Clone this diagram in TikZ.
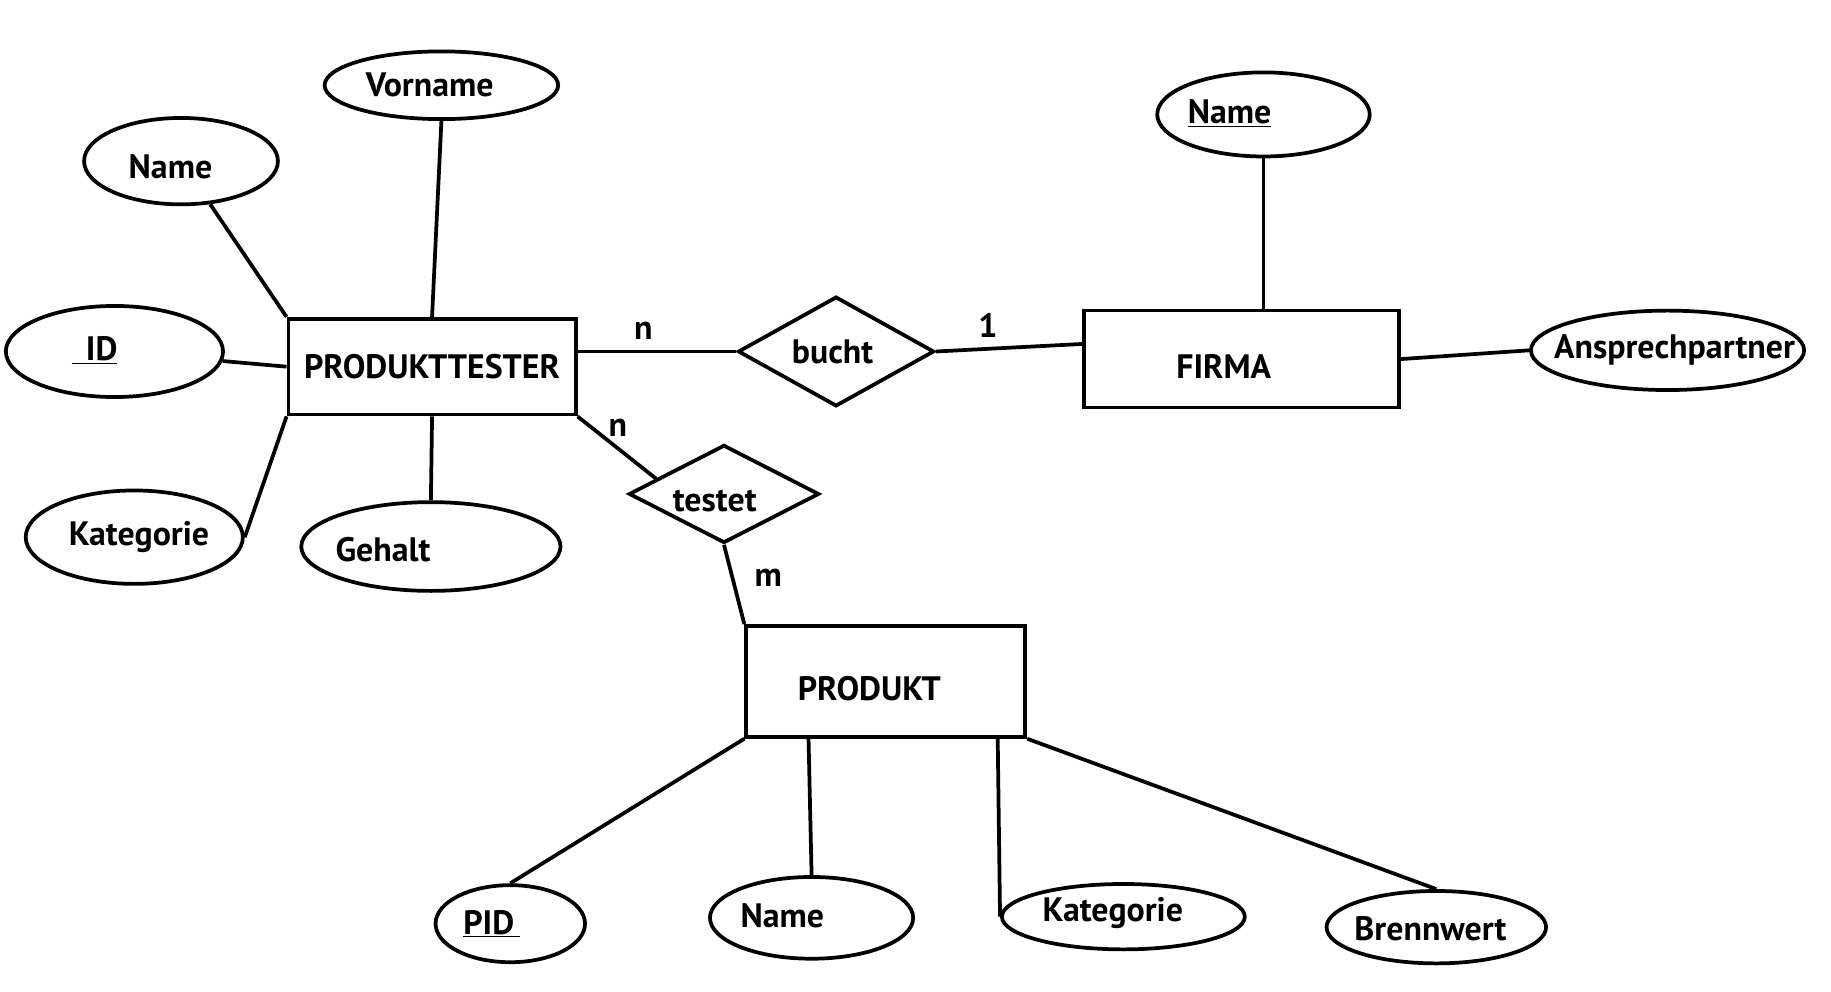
\documentclass[tikz,border=0pt]{standalone}
\usepackage{fontspec}
\setmainfont{PT Sans}
\usetikzlibrary{shapes.geometric,calc}
\begin{document}
\begin{tikzpicture}[x=1pt,y=-1pt,
  every node/.style={font=\bfseries\fontsize{29}{34}\selectfont},
  ent/.style={draw,rectangle,line width=3.2pt,inner sep=0pt},
  attr/.style={draw,ellipse,line width=3.2pt,inner sep=0pt},
  rel/.style={draw,diamond,line width=3.2pt,inner sep=0pt},
  conn/.style={line width=3.2pt},
  card/.style={inner sep=0pt}]
\useasboundingbox[fill=white] (0,0) rectangle (1568,849.5);
% entities
\node[ent,minimum width=246pt,minimum height=82pt] (pt) at (370,314) {PRODUKTTESTER};
\node[ent,minimum width=270pt,minimum height=83pt,label={[xshift=-15pt,yshift=-6pt]center:FIRMA}] (firma) at (1063,307.5) {};
\node[ent,minimum width=239pt,minimum height=95pt,label={[xshift=-14pt,yshift=-6pt]center:PRODUKT}] (prod) at (758.5,583.5) {};
% relationships
\node[rel,minimum width=168pt,minimum height=94pt,label={[xshift=-3pt]center:bucht}] (bucht) at (716,301) {};
\node[rel,minimum width=163pt,minimum height=84pt,label={[xshift=-8pt,yshift=-6pt]center:testet}] (testet) at (620,423) {};
% attributes
\node[attr,minimum width=200pt,minimum height=58pt,label={[xshift=-10pt]center:Vorname}] (vorname) at (378,73) {};
\node[attr,minimum width=166pt,minimum height=74pt,label={[xshift=-9pt,yshift=-5pt]center:Name}] (name1) at (155,138) {};
\node[attr,minimum width=186pt,minimum height=78pt,label={[xshift=-17pt,yshift=1pt]center:\underline{\ \,ID}}] (id) at (98,301) {};
\node[attr,minimum width=186pt,minimum height=80pt,label={[xshift=4pt]center:Kategorie}] (kat1) at (115,460) {};
\node[attr,minimum width=222pt,minimum height=76pt,label={[xshift=-41pt,yshift=-3pt]center:Gehalt}] (gehalt) at (369,468) {};
\node[attr,minimum width=182pt,minimum height=72pt,label={[xshift=-29pt,yshift=1pt]center:\underline{Name}}] (fname) at (1082,98) {};
\node[attr,minimum width=234pt,minimum height=68pt,label={[xshift=6pt]center:Ansprechpartner}] (ansp) at (1428,300) {};
\node[attr,minimum width=128pt,minimum height=66pt,label={[xshift=-16pt]center:\underline{PID\,}}] (pid) at (437,791) {};
\node[attr,minimum width=174pt,minimum height=70pt,label={[xshift=-25pt,yshift=2pt]center:Name}] (name2) at (695,786) {};
\node[attr,minimum width=208pt,minimum height=56pt,label={[xshift=-9pt,yshift=3pt]center:Kategorie}] (kat2) at (962,785) {};
\node[attr,minimum width=188pt,minimum height=62pt,label={[xshift=-5pt,yshift=-1pt]center:Brennwert}] (brenn) at (1230,794) {};
% connectors
\draw[conn] (name1) -- (pt.north west);
\draw[conn] (vorname.south) -- (pt.north);
\draw[conn] (id) -- (pt.west);
\draw[conn] (kat1.east) -- (pt.south west);
\draw[conn] (gehalt.north) -- (pt.south);
\draw[conn] (pt.east |- bucht.west) -- (bucht.west);
\draw[conn] (bucht.east) -- ($(firma.north west)!0.35!(firma.south west)$);
\draw[conn] (fname.south) -- (fname.south |- firma.north);
\draw[conn] (firma.east) -- (ansp.west);
\draw[conn] (pt.south east) -- ($(testet.west)!0.3!(testet.north)$);
\draw[conn] (testet.south) -- (prod.north west);
\draw[conn] (prod.south west) -- (pid.north);
\draw[conn] ($(prod.south west)+(55,0)$) -- (name2.north);
\draw[conn] ($(prod.south west)+(217,0)$) -- (kat2.west);
\draw[conn] (prod.south east) -- (brenn.north);
% cardinalities
\node[card] (c1) at (551,283) {n};
\node[card] (c2) at (846,279) {1};
\node[card] (c3) at (529,366) {n};
\node[card] (c4) at (658,495) {m};
\end{tikzpicture}
\end{document}
